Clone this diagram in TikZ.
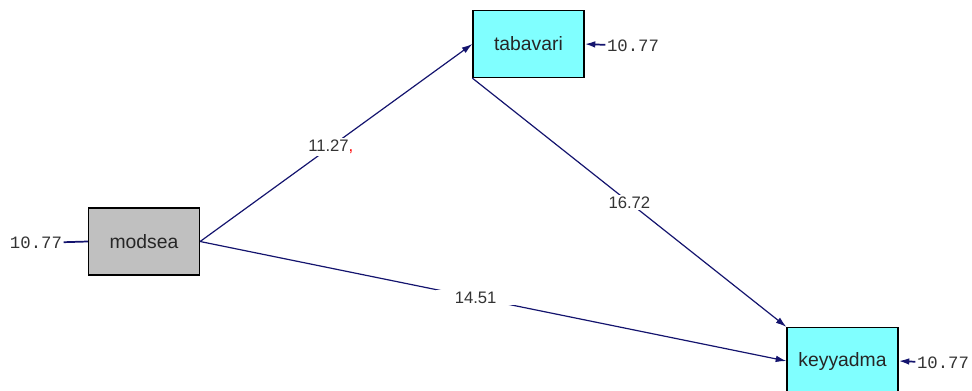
\documentclass[tikz,border=0pt]{standalone}
\usepackage{fontspec}
\setmainfont{Liberation Sans}
\newfontfamily\errfont{Liberation Mono}
\usetikzlibrary{arrows.meta}
\definecolor{pathblue}{RGB}{20,20,110}
\definecolor{boxcyan}{RGB}{128,255,255}
\definecolor{boxgray}{RGB}{192,192,192}

\begin{document}
\begin{tikzpicture}[x=0.75pt,y=-0.75pt,
    var/.style={draw,line width=1.2pt,minimum width=83pt,minimum height=50pt,font=\fontsize{14.5}{16}\selectfont,text=black!85},
    path/.style={pathblue,line width=0.9pt,-{Latex[length=8pt,width=5pt]}},
    coef/.style={fill=white,text=black!80,font=\fontsize{12.5}{14}\selectfont,inner sep=1.5pt},
    err/.style={font=\errfont\fontsize{13}{15}\selectfont,text=black!80,inner sep=1pt}]
            \useasboundingbox (0,0) rectangle (972,390);
            \node[var,fill=boxgray] (modsea)   at (144,241.5) {modsea};
            \node[var,fill=boxcyan] (tabavari) at (528.5,44)  {tabavari};
            \node[var,fill=boxcyan] (keyyadma) at (842.5,361) {keyyadma};

            \node[err] (e1) at (36,243)  {10.77};
            \node[err] (e2) at (633,46)  {10.77};
            \node[err] (e3) at (943,363) {10.77};

            \draw[pathblue,line width=1.3pt] (e1) -- (modsea.west);
            \draw[path,line width=1.3pt] (e2) -- (tabavari.east);
            \draw[path,line width=1.3pt] (e3) -- (keyyadma.east);

            \draw[path] (modsea.east) -- node[coef,pos=0.48] {11.27\textcolor{red}{,}} (tabavari.west);
            \draw[path] (tabavari.south west) -- node[coef,pos=0.5] {16.72} (keyyadma.north west);
            \draw[path] (modsea.east) -- node[coef,pos=0.47,inner xsep=14pt] {14.51} (keyyadma.west);
        \end{tikzpicture}
\end{document}
